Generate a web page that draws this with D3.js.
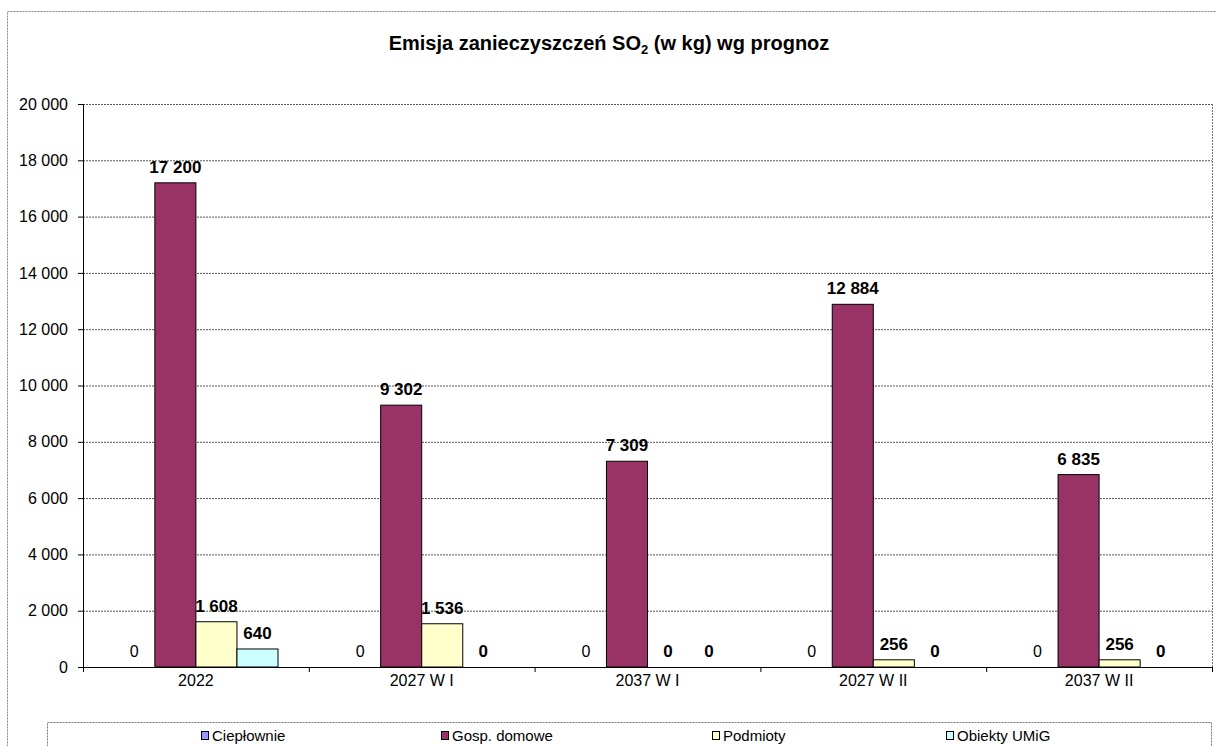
<!DOCTYPE html>
<html>
<head>
<meta charset="utf-8">
<script src="https://cdn.jsdelivr.net/npm/d3@7"></script>
<style>
  body { margin: 0; background: #fff; }
  svg { font-family: "Liberation Sans", Arial, sans-serif; }
</style>
</head>
<body>
<div id="chart"></div>
<script>
const categories = ['2022', '2027 W I', '2037 W I', '2027 W II', '2037 W II'];
const seriesNames = ['Ciepłownie', 'Gosp. domowe', 'Podmioty', 'Obiekty UMiG'];
const seriesColors = ['#9999ff', '#993366', '#ffffcc', '#ccffff'];
const cieplownie = [0, 0, 0, 0, 0];
const gospDomowe = [17200, 9302, 7309, 12884, 6835];
const podmioty = [1608, 1536, 0, 256, 256];
const obiekty = [640, 0, 0, 0, 0];
const yTicks = [0, 2000, 4000, 6000, 8000, 10000, 12000, 14000, 16000, 18000, 20000];

const series = [cieplownie, gospDomowe, podmioty, obiekty];
const width = 1216, height = 746;
const plot = {left: 83, right: 1212, top: 104, bottom: 667};

const svg = d3.select('#chart').append('svg')
    .attr('width', width)
    .attr('height', height);

// outer chart frame
svg.append('rect')
    .attr('x', 7.5).attr('y', 11.5)
    .attr('width', 1220).attr('height', 760)
    .attr('fill', 'none')
    .attr('stroke', '#888')
    .attr('stroke-dasharray', '2,1');

svg.append('text')
    .attr('x', 609).attr('y', 50)
    .attr('text-anchor', 'middle')
    .attr('font-size', '20px')
    .attr('font-weight', 'bold')
    .call(t => {
        t.append('tspan').text('Emisja zanieczyszczeń SO');
        t.append('tspan').attr('font-size', '13px').attr('dy', 4).text('2');
        t.append('tspan').attr('dy', -4).text(' (w kg) wg prognoz');
    });

const x = d3.scaleBand().domain(categories).range([plot.left, plot.right]);
const barW = x.bandwidth() / 5.5;
const y = d3.scaleLinear().domain([0, 20000]).range([plot.bottom, plot.top]);

const fmt = v => d3.format(',')(v).replace(/,/g, ' ');

// gridlines
svg.append('g').selectAll('line')
    .data(yTicks.slice(1))
    .join('line')
    .attr('x1', plot.left).attr('x2', plot.right)
    .attr('y1', d => y(d) + 0.5).attr('y2', d => y(d) + 0.5)
    .attr('stroke', '#555')
    .attr('stroke-dasharray', '2,1');

// right plot border
svg.append('line')
    .attr('x1', plot.right + 0.5).attr('x2', plot.right + 0.5)
    .attr('y1', plot.top).attr('y2', plot.bottom)
    .attr('stroke', '#777')
    .attr('stroke-dasharray', '2,1');

// bars
const groups = svg.append('g').selectAll('g')
    .data(categories)
    .join('g')
    .attr('transform', d => `translate(${x(d)},0)`);

groups.each(function (cat, ci) {
    const g = d3.select(this);
    const start = x.bandwidth() / 2 - barW * 2;
    series.forEach((vals, si) => {
        const v = vals[ci];
        const bx = start + si * barW;
        if (v > 0) {
            g.append('rect')
                .attr('x', bx).attr('y', y(v))
                .attr('width', barW).attr('height', y(0) - y(v))
                .attr('fill', seriesColors[si])
                .attr('stroke', '#000')
                .attr('stroke-width', 1);
        }
        g.append('text')
            .attr('x', bx + barW / 2)
            .attr('y', y(v) - 10)
            .attr('text-anchor', 'middle')
            .attr('font-size', si === 0 ? '16px' : '17px')
            .attr('font-weight', si === 0 ? 'normal' : 'bold')
            .text(fmt(v));
    });
});

// y axis
const yAxis = svg.append('g')
    .attr('transform', `translate(${plot.left},0)`)
    .call(d3.axisLeft(y).tickValues(yTicks).tickSize(5).tickFormat(fmt));
yAxis.select('.domain').attr('stroke', '#000');
yAxis.selectAll('text').attr('font-size', '16px').attr('font-family', 'Liberation Sans, Arial')
    .attr('fill', '#000').attr('x', -15);

// x axis
const xAxis = svg.append('g')
    .attr('transform', `translate(0,${plot.bottom})`)
    .call(d3.axisBottom(x).tickSize(0).tickPadding(8));
xAxis.select('.domain').attr('stroke', '#000');
xAxis.selectAll('text').attr('font-size', '16px').attr('font-family', 'Liberation Sans, Arial').attr('fill', '#000');
xAxis.selectAll('.sep')
    .data(categories.map(c => x(c)).concat([plot.right]))
    .join('line')
    .attr('x1', d => d + 0.5).attr('x2', d => d + 0.5)
    .attr('y1', 0).attr('y2', 5)
    .attr('stroke', '#000');

// legend
const legend = svg.append('g');
legend.append('rect')
    .attr('x', 47.5).attr('y', 722.5)
    .attr('width', 1164).attr('height', 60)
    .attr('fill', '#fff')
    .attr('stroke', '#777')
    .attr('stroke-dasharray', '2,1');
const legendX = [201, 441, 712, 946];
seriesNames.forEach((name, i) => {
    legend.append('rect')
        .attr('x', legendX[i] + 0.5).attr('y', 731.5)
        .attr('width', 7).attr('height', 8)
        .attr('fill', seriesColors[i])
        .attr('stroke', '#000');
    legend.append('text')
        .attr('x', legendX[i] + 11).attr('y', 741)
        .attr('font-size', '15px')
        .text(name);
});
</script>
</body>
</html>
